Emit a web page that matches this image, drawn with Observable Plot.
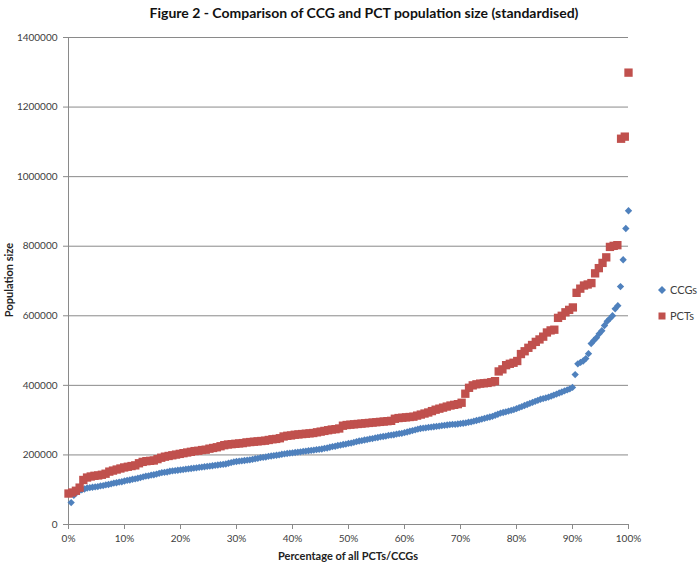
<!DOCTYPE html>
<html>
<head>
<meta charset="utf-8">
<script src="https://cdn.jsdelivr.net/npm/d3@7"></script>
<script src="https://cdn.jsdelivr.net/npm/@observablehq/plot@0.6"></script>
<style>
  body { margin: 0; background: #fff; }
  #wrap { position: relative; width: 700px; height: 570px; font-family: Lato, "Open Sans", sans-serif; color: #404040; }
  #title { position: absolute; top: 4px; left: 14px; width: 700px; text-align: center; font-weight: bold; font-size: 14px; color: #111; }
  #chart { position: absolute; top: 30px; left: 0; }
  #xtitle { position: absolute; top: 549px; left: 0; width: 696px; text-align: center; font-weight: bold; font-size: 11px; color: #222; }
  #ytitle { position: absolute; left: 8px; top: 280px; transform: translate(-50%, -50%) rotate(-90deg); white-space: nowrap; font-weight: bold; font-size: 11px; color: #222; }
  .leg { position: absolute; left: 657px; font-size: 11px; color: #404040; display: flex; align-items: center; }
  .leg svg { margin-right: 3px; }
</style>
</head>
<body>
<div id="wrap">
  <div id="title">Figure 2 - Comparison of CCG and PCT population size (standardised)</div>
  <div id="chart"></div>
  <div id="xtitle">Percentage of all PCTs/CCGs</div>
  <div id="ytitle">Population size</div>
  <div class="leg" style="top:283px"><svg width="10" height="10"><path d="M5,1L9,5L5,9L1,5Z" fill="#4f81bd"/></svg>CCGs</div>
  <div class="leg" style="top:309px"><svg width="10" height="10"><rect x="1.5" y="1.5" width="7" height="7" fill="#c0504d"/></svg>PCTs</div>
</div>
<script>
// Population sizes sorted ascending, one value per organisation
const ccgPopulation = [
  63000, 84000, 92000, 97000, 100000, 102000, 105000, 106000, 107000, 108000,
  109000, 111000, 112000, 114000, 115000, 117000, 119000, 120000, 122000, 123000,
  125000, 127000, 128000, 130000, 131000, 133000, 135000, 137000, 139000, 140000,
  142000, 143000, 145000, 147000, 149000, 150000, 151000, 153000, 154000, 155000,
  156000, 157000, 158000, 159000, 160000, 161000, 162000, 163000, 164000, 165000,
  166000, 167000, 168000, 169000, 170000, 171000, 172000, 173000, 174000, 176000,
  178000, 180000, 181000, 182000, 183000, 184000, 185000, 186000, 187000, 189000,
  190000, 192000, 193000, 194000, 196000, 197000, 198000, 199000, 200000, 202000,
  203000, 204000, 205000, 206000, 207000, 208000, 209000, 210000, 211000, 212000,
  213000, 214000, 215000, 216000, 217000, 219000, 220000, 222000, 224000, 225000,
  227000, 228000, 230000, 231000, 233000, 234000, 236000, 238000, 240000, 241000,
  243000, 244000, 246000, 247000, 249000, 250000, 252000, 253000, 254000, 256000,
  257000, 258000, 260000, 261000, 262000, 264000, 266000, 268000, 270000, 272000,
  274000, 276000, 277000, 278000, 279000, 280000, 281000, 282000, 283000, 284000,
  285000, 286000, 287000, 288000, 288000, 289000, 290000, 291000, 292000, 294000,
  295000, 297000, 299000, 301000, 303000, 305000, 307000, 309000, 311000, 314000,
  317000, 320000, 322000, 324000, 326000, 328000, 330000, 333000, 336000, 339000,
  342000, 345000, 348000, 351000, 354000, 357000, 360000, 362000, 364000, 366000,
  369000, 372000, 375000, 378000, 381000, 384000, 387000, 390000, 394000, 431000,
  462000, 466000, 470000, 477000, 491000, 520000, 529000, 537000, 548000, 557000,
  572000, 584000, 592000, 600000, 620000, 629000, 684000, 761000, 851000, 902000
];

const pctPopulation = [
  89000, 92000, 97000, 106000, 128000, 135000, 138000, 140000, 141000, 143000,
  146000, 152000, 155000, 158000, 161000, 164000, 166000, 168000, 170000, 176000,
  180000, 182000, 183000, 184000, 188000, 192000, 195000, 197000, 199000, 201000,
  203000, 205000, 207000, 209000, 211000, 212000, 214000, 215000, 218000, 220000,
  222000, 225000, 228000, 230000, 231000, 232000, 233000, 234000, 236000, 237000,
  238000, 239000, 240000, 241000, 243000, 245000, 246000, 248000, 253000, 255000,
  256000, 258000, 259000, 260000, 261000, 262000, 263000, 265000, 267000, 269000,
  271000, 273000, 274000, 276000, 284000, 286000, 287000, 288000, 289000, 290000,
  291000, 292000, 293000, 294000, 295000, 296000, 297000, 298000, 304000, 306000,
  307000, 308000, 309000, 310000, 313000, 316000, 319000, 322000, 326000, 330000,
  333000, 336000, 339000, 342000, 344000, 346000, 350000, 376000, 393000, 400000,
  403000, 405000, 406000, 407000, 409000, 412000, 440000, 446000, 458000, 462000,
  465000, 470000, 490000, 498000, 508000, 516000, 525000, 532000, 540000, 552000,
  558000, 560000, 594000, 600000, 610000, 617000, 624000, 666000, 678000, 687000,
  690000, 694000, 722000, 737000, 752000, 768000, 798000, 801000, 803000, 1109000,
  1115000, 1299000
];

const yTicks = [0, 200000, 400000, 600000, 800000, 1000000, 1200000, 1400000];
const xTicks = [0, 0.1, 0.2, 0.3, 0.4, 0.5, 0.6, 0.7, 0.8, 0.9, 1];

// Each organisation's position: its rank as a share of all organisations
const ccgs = ccgPopulation.map((v, i, a) => ({share: (i + 1) / a.length, population: v}));
const pcts = pctPopulation.map((v, i, a) => ({share: i / (a.length - 1), population: v}));

const axisColor = "#8a8a8a";

const chart = Plot.plot({
  width: 700,
  height: 540,
  marginLeft: 68,
  marginRight: 72,
  marginTop: 7,
  marginBottom: 46,
  style: {fontFamily: "Lato, 'Open Sans', sans-serif", fontSize: "10px", color: "#404040", background: "#fff"},
  x: {domain: [0, 1]},
  y: {domain: [0, 1400000]},
  marks: [
    Plot.gridY(yTicks.filter(d => d > 0), {stroke: axisColor, strokeOpacity: 1}),
    Plot.ruleY([0], {stroke: axisColor}),
    Plot.ruleX([0], {stroke: axisColor}),
    Plot.axisY(yTicks, {tickSize: 5, tickPadding: 6, tickFormat: d3.format("d"), stroke: axisColor, label: null}),
    Plot.axisX(xTicks, {tickSize: 5, tickPadding: 5, tickFormat: d3.format(".0%"), stroke: axisColor, label: null}),
    Plot.dot(ccgs, {x: "share", y: "population", symbol: "diamond2", r: 3.3, fill: "#4f81bd", stroke: "none"}),
    Plot.dot(pcts, {x: "share", y: "population", symbol: "square", r: 4.7, fill: "#c0504d", stroke: "none"})
  ]
});

document.getElementById("chart").appendChild(chart);
</script>
</body>
</html>
